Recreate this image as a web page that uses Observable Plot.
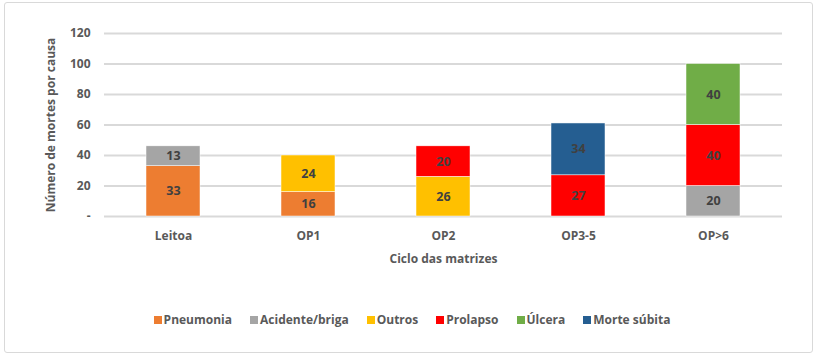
<!DOCTYPE html>
<html><head><meta charset="utf-8">
<script src="https://cdn.jsdelivr.net/npm/d3@7"></script>
<script src="https://cdn.jsdelivr.net/npm/@observablehq/plot@0.6"></script>
<style>
body{margin:0;background:#fff;font-family:"Open Sans",sans-serif;}
#wrap{position:relative;width:820px;height:360px;overflow:hidden;}
#frame{position:absolute;left:4px;top:2px;width:809px;height:351px;border:1px solid #d9d9d9;border-radius:3px;box-sizing:border-box;}
#chart{position:absolute;left:0;top:0;}
#legend{position:absolute;left:0;width:820px;top:311px;display:flex;justify-content:center;gap:18px;font-size:12px;font-weight:700;color:#595959;padding-left:2px;}
#legend span.sw{display:inline-block;width:8px;height:8px;margin-right:2px;}
#legend div{display:flex;align-items:center;}
</style></head>
<body><div id="wrap"><div id="frame"></div><div id="chart"></div><div id="legend"></div></div>
<script>
const categories = ["Leitoa", "OP1", "OP2", "OP3-5", "OP>6"];
const seriesNames = ["Pneumonia", "Acidente/briga", "Outros", "Prolapso", "Úlcera", "Morte súbita"];
const seriesColors = ["#ED7D31", "#A5A5A5", "#FFC000", "#FF0000", "#70AD47", "#255E91"];
const pneumonia   = [33, 16, 0, 0, 0];
const acidente    = [13, 0, 0, 0, 20];
const outros      = [0, 24, 26, 0, 0];
const prolapso    = [0, 0, 20, 27, 40];
const ulcera      = [0, 0, 0, 0, 40];
const morteSubita = [0, 0, 0, 34, 0];
const yTicks = [0, 20, 40, 60, 80, 100, 120];

const seriesValues = [pneumonia, acidente, outros, prolapso, ulcera, morteSubita];
const data = [];
seriesNames.forEach((s, si) => categories.forEach((c, ci) => {
  const v = seriesValues[si][ci];
  if (v > 0) data.push({cat: c, series: s, value: v});
}));

const font = "'Open Sans', sans-serif";
const chart = Plot.plot({
  width: 820, height: 280,
  marginLeft: 104, marginRight: 38, marginTop: 33, marginBottom: 64,
  style: {fontFamily: font, fontSize: "11.5px", fontWeight: 700, color: "#595959", background: "transparent"},
  x: {domain: categories, paddingInner: 0.6, paddingOuter: 0.3, label: null},
  y: {domain: [0, 120], label: null},
  color: {domain: seriesNames, range: seriesColors},
  marks: [
    Plot.gridY(yTicks, {stroke: "#d9d9d9", strokeOpacity: 1, strokeWidth: 2}),
    Plot.axisY(yTicks, {tickSize: 0, tickPadding: 14, tickFormat: d => d === 0 ? "-" : d, label: "Número de mortes por causa", labelAnchor: "center", labelArrow: "none", labelOffset: 58, fontSize: 12}),
    Plot.axisX({tickSize: 0, tickPadding: 15, label: "Ciclo das matrizes", labelAnchor: "center", labelArrow: "none", labelOffset: 46, fontSize: 12}),
    Plot.barY(data, Plot.stackY({x: "cat", y: "value", fill: "series", z: "series", order: seriesNames, stroke: "#ffffff", strokeWidth: 0.5})),
    Plot.text(data, Plot.stackY({x: "cat", y: "value", z: "series", order: seriesNames, text: d => d.value, fill: "#404040", fontSize: 12.5, fontWeight: 700}))
  ]
});
document.getElementById("chart").appendChild(chart);

const leg = document.getElementById("legend");
seriesNames.forEach((s, i) => {
  const d = document.createElement("div");
  d.innerHTML = `<span class="sw" style="background:${seriesColors[i]}"></span>${s}`;
  leg.appendChild(d);
});
</script></body></html>
